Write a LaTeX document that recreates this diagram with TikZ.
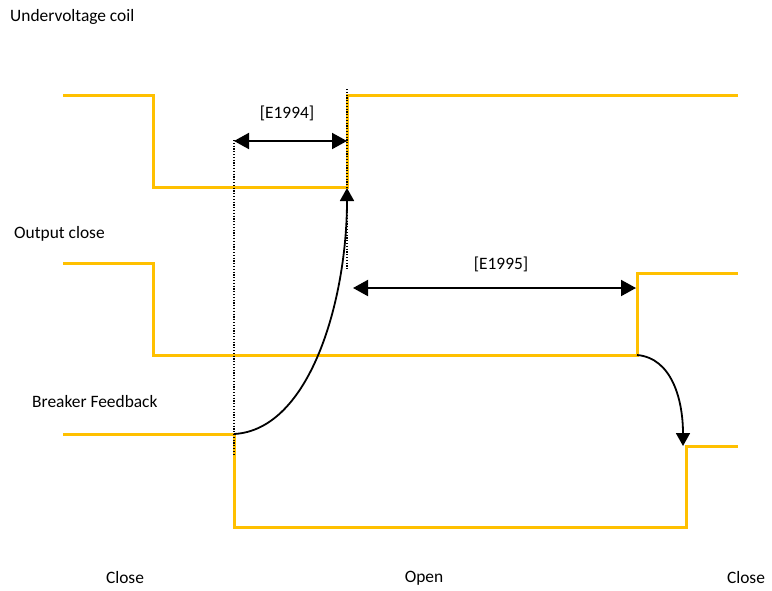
\documentclass[tikz,border=0pt]{standalone}
\usepackage{fontspec}
\setmainfont{Carlito}
\usetikzlibrary{arrows.meta}
\definecolor{gold}{HTML}{FFC000}
\begin{document}
\begin{tikzpicture}[x=1pt,y=-1pt,
  wave/.style={draw=gold,line width=3pt},
  dim/.style={draw=black,line width=2pt,{Triangle[length=15pt,width=16pt]}-{Triangle[length=15pt,width=16pt]}},
  cause/.style={draw=black,line width=1.8pt,-{Triangle[length=13pt,width=14pt]}},
  guide/.style={draw=black,line width=1.2pt,dash pattern=on 1.2pt off 1.6pt},
  lbl/.style={font=\fontsize{17.4}{20}\selectfont,inner sep=0pt}]
\useasboundingbox (0,0) rectangle (772,590);
% waveforms
\draw[wave] (63,95) -- (153,95) -- (153,187) -- (347,187) -- (347,95) -- (738,95);
\draw[wave] (63,263) -- (153,263) -- (153,355) -- (637,355) -- (637,273) -- (738,273);
\draw[wave] (63,434) -- (234,434) -- (234,527) -- (686,527) -- (686,446) -- (738,446);
% coordinates
\coordinate (a1) at (234,141);
\coordinate (a2) at (347,141);
\coordinate (b1) at (353,288);
\coordinate (b2) at (636,288);
\coordinate (bf) at (234,434);
\coordinate (uv) at (347,188);
\coordinate (oc) at (637,355);
\coordinate (bf2) at (683,446);
\coordinate (g1t) at (234,140);
\coordinate (g1b) at (234,456);
\coordinate (g2t) at (347,89);
\coordinate (g2b) at (347,270);
% guides
\draw[guide] (g1t) -- (g1b);
\draw[guide] (g2t) -- (g2b);
% dimensions
\draw[dim] (a1) -- (a2);
\draw[dim] (b1) -- (b2);
\node[lbl] (e1994) at (287,113) {[E1994]};
\node[lbl] (e1995) at (501,264) {[E1995]};
% causal curves
\draw[cause] (bf) .. controls (310,430) and (347,300) .. (uv);
\draw[cause] (oc) .. controls (672,358) and (683,400) .. (bf2);
% labels
\node[lbl,anchor=west] (t1) at (10,17) {Undervoltage coil};
\node[lbl,anchor=west] (t2) at (14,234) {Output close};
\node[lbl,anchor=west] (t3) at (32,402) {Breaker Feedback};
\node[lbl] (c1) at (125,578) {Close};
\node[lbl] (c2) at (424,578) {Open};
\node[lbl] (c3) at (746,578) {Close};
\end{tikzpicture}
\end{document}
